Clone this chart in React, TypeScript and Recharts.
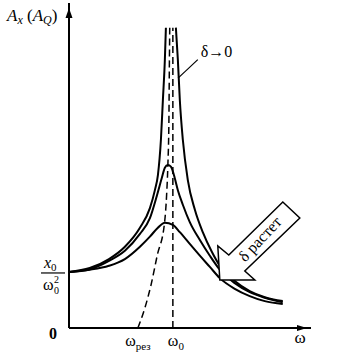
import React from 'react';
import { ComposedChart, Line, XAxis, YAxis, ReferenceLine, ReferenceDot } from 'recharts';

// amplitude curves: w = ω/ω0, a = A / (x0/ω0²)
const undampedLeft = [
  { w: 0, a: 1.0 }, { w: 0.2, a: 1.07 }, { w: 0.385, a: 1.23 }, { w: 0.538, a: 1.45 },
  { w: 0.683, a: 1.79 }, { w: 0.779, a: 2.14 }, { w: 0.827, a: 2.46 }, { w: 0.856, a: 2.73 },
  { w: 0.885, a: 3.36 }, { w: 0.904, a: 4.07 }, { w: 0.923, a: 4.79 }, { w: 0.933, a: 5.36 },
];
const undampedRight = [
  { w: 1.029, a: 5.36 }, { w: 1.048, a: 4.79 }, { w: 1.067, a: 4.07 }, { w: 1.096, a: 3.36 },
  { w: 1.144, a: 2.64 }, { w: 1.212, a: 2.11 }, { w: 1.288, a: 1.71 }, { w: 1.375, a: 1.36 },
  { w: 1.452, a: 1.11 }, { w: 1.596, a: 0.84 }, { w: 1.74, a: 0.66 }, { w: 1.885, a: 0.55 },
  { w: 2.058, a: 0.48 },
];
const mediumDamping = [
  { w: 0, a: 1.0 }, { w: 0.2, a: 1.05 }, { w: 0.385, a: 1.2 }, { w: 0.538, a: 1.38 },
  { w: 0.683, a: 1.68 }, { w: 0.779, a: 1.96 }, { w: 0.846, a: 2.36 }, { w: 0.894, a: 2.68 },
  { w: 0.923, a: 2.86 }, { w: 0.952, a: 2.91 }, { w: 0.981, a: 2.88 }, { w: 1.01, a: 2.73 },
  { w: 1.048, a: 2.46 }, { w: 1.096, a: 2.2 }, { w: 1.163, a: 1.89 }, { w: 1.26, a: 1.57 },
  { w: 1.356, a: 1.29 }, { w: 1.452, a: 1.04 }, { w: 1.596, a: 0.8 }, { w: 1.74, a: 0.64 },
  { w: 1.885, a: 0.54 }, { w: 2.058, a: 0.46 },
];
const strongDamping = [
  { w: 0, a: 1.0 }, { w: 0.2, a: 1.04 }, { w: 0.385, a: 1.11 }, { w: 0.538, a: 1.23 },
  { w: 0.683, a: 1.45 }, { w: 0.779, a: 1.63 }, { w: 0.856, a: 1.79 }, { w: 0.923, a: 1.88 },
  { w: 1.0, a: 1.84 }, { w: 1.067, a: 1.71 }, { w: 1.163, a: 1.5 }, { w: 1.26, a: 1.29 },
  { w: 1.356, a: 1.09 }, { w: 1.452, a: 0.89 }, { w: 1.596, a: 0.7 }, { w: 1.74, a: 0.57 },
  { w: 1.885, a: 0.48 }, { w: 2.058, a: 0.43 },
];
// locus of the maxima
const peakLocus = [
  { w: 0.663, a: 0 }, { w: 0.731, a: 0.36 }, { w: 0.79, a: 0.77 }, { w: 0.85, a: 1.3 },
  { w: 0.92, a: 1.88 }, { w: 0.94, a: 2.38 }, { w: 0.952, a: 2.91 }, { w: 0.962, a: 3.71 },
  { w: 0.966, a: 4.61 }, { w: 0.97, a: 5.36 },
];

const xTicks = [0.663, 1];
const xTickSubs = ['рез', '0'];
const yTicks = [0, 1];

const serif = '"Liberation Serif", "DejaVu Serif", serif';

const XTick = (props: any) => {
  const { x, y, payload } = props;
  const i = xTicks.indexOf(payload.value);
  return (
    <text x={x + (i === 1 ? 3 : 0)} y={y + 10} textAnchor="middle" fontFamily={serif} fontSize={16} fill="#000">
      ω<tspan fontSize={11} dy={4} fill="#000">{xTickSubs[i]}</tspan>
    </text>
  );
};

const YTick = (props: any) => {
  const { y, payload } = props;
  if (payload.value === 0) {
    return <text x={53} y={y + 11} textAnchor="middle" fontFamily={serif} fontSize={16} fontWeight="bold" fill="#000">0</text>;
  }
  return (
    <g fontFamily={serif}>
      <text x={44} y={y - 4} fontSize={16} fontStyle="italic" fill="#000">x<tspan fontSize={11} fontStyle="normal" dy={3} fill="#000">0</tspan></text>
      <line x1={41} x2={65} y1={y + 1} y2={y + 1} stroke="#000" strokeWidth={1.2} />
      <text x={43} y={y + 18} fontSize={16} fill="#000">ω</text>
      <text x={54} y={y + 11} fontSize={10} fill="#000">2</text>
      <text x={54} y={y + 22} fontSize={10} fill="#000">0</text>
    </g>
  );
};

const App = () => {
  return (
    <div style={{ position: 'absolute', left: 0, top: 0, width: 352, height: 359, background: '#fff' }}>
      <ComposedChart width={352} height={359} margin={{ top: 3, right: 41, bottom: 0, left: 0 }}>
        <XAxis
          type="number" dataKey="w" domain={[0, 2.33]} ticks={xTicks} tick={<XTick />}
          height={31} tickLine={false} axisLine={{ stroke: '#000', strokeWidth: 2 }} allowDataOverflow
        />
        <YAxis
          type="number" dataKey="a" domain={[0, 5.8]} ticks={yTicks} tick={<YTick />}
          width={69} tickLine={false} axisLine={{ stroke: '#000', strokeWidth: 2 }} allowDataOverflow
        />
        <ReferenceLine segment={[{ x: 1, y: 0 }, { x: 1, y: 5.36 }]} stroke="#000" strokeWidth={1.5} strokeDasharray="7 4" />
        <Line data={peakLocus} dataKey="a" type="monotone" stroke="#000" strokeWidth={1.5} strokeDasharray="7 4" dot={false} isAnimationActive={false} />
        <Line data={strongDamping} dataKey="a" type="monotone" stroke="#000" strokeWidth={2} dot={false} isAnimationActive={false} />
        <Line data={mediumDamping} dataKey="a" type="monotone" stroke="#000" strokeWidth={2} dot={false} isAnimationActive={false} />
        <Line data={undampedLeft} dataKey="a" type="monotone" stroke="#000" strokeWidth={2} dot={false} isAnimationActive={false} />
        <Line data={undampedRight} dataKey="a" type="monotone" stroke="#000" strokeWidth={2} dot={false} isAnimationActive={false} />
        <ReferenceLine segment={[{ x: 1.05, y: 4.46 }, { x: 1.24, y: 4.79 }]} stroke="#000" strokeWidth={1.2} />
        <ReferenceDot
          x={1.24} y={4.79} r={0} ifOverflow="visible"
          shape={(p: any) => (
            <text x={p.cx + 3} y={p.cy - 3} fontFamily={serif} fontSize={16} fill="#000">δ→0</text>
          )}
        />
        <ReferenceDot
          x={1.452} y={0.857} r={0} ifOverflow="visible"
          shape={(p: any) => (
            <g transform={`translate(${p.cx},${p.cy})`}>
              <polygon
                points="0,0 -2,-34 9,-25 63,-78 80,-62 25,-9 35,0"
                fill="#fff" stroke="#000" strokeWidth={1.5} strokeLinejoin="miter"
              />
              <text x={40} y={-41} transform="rotate(-47 40 -41)" textAnchor="middle" dominantBaseline="central"
                fontFamily={serif} fontSize={16} fill="#000">δ растет</text>
            </g>
          )}
        />
        <ReferenceDot
          x={0} y={5.8} r={0} ifOverflow="visible"
          shape={(p: any) => (
            <g fontFamily={serif}>
              <polygon points={`${p.cx},${p.cy + 5} ${p.cx - 3.5},${p.cy + 15} ${p.cx + 3.5},${p.cy + 15}`} fill="#000" />
              <text x={p.cx - 62} y={p.cy + 18} fontSize={17} fill="#000">
                <tspan fontStyle="italic">A</tspan>
                <tspan fontStyle="italic" fontSize={12} dy={3}>x</tspan>
                <tspan dy={-3}> (</tspan>
                <tspan fontStyle="italic">A</tspan>
                <tspan fontStyle="italic" fontSize={12} dy={3}>Q</tspan>
                <tspan dy={-3}>)</tspan>
              </text>
            </g>
          )}
        />
        <ReferenceDot
          x={2.33} y={0} r={0} ifOverflow="visible"
          shape={(p: any) => (
            <g fontFamily={serif}>
              <polygon points={`${p.cx - 4},${p.cy} ${p.cx - 14},${p.cy - 3} ${p.cx - 14},${p.cy + 3}`} fill="#000" />
              <text x={p.cx - 11} y={p.cy + 15} fontSize={17} textAnchor="middle" fill="#000">ω</text>
            </g>
          )}
        />
      </ComposedChart>
    </div>
  );
};

export default App;
